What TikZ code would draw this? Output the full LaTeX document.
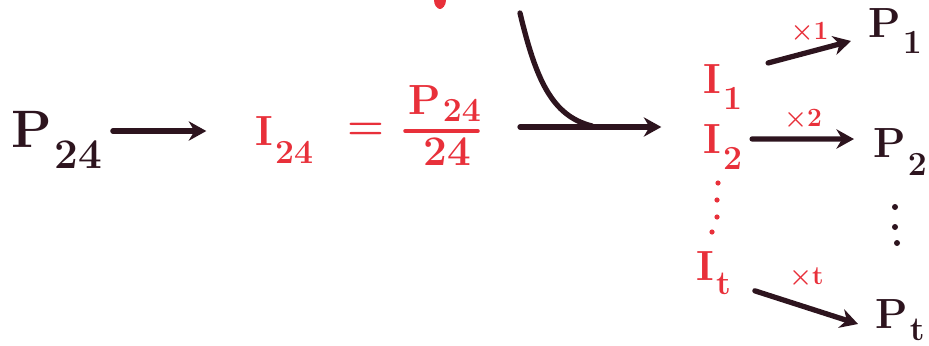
\documentclass[tikz,border=0pt]{standalone}
\usepackage{fontspec}
\usetikzlibrary{arrows.meta}
\definecolor{ink}{RGB}{45,20,30}
\definecolor{redink}{RGB}{232,48,58}
% lowered handwritten-style subscript
\newcommand{\lowsub}[2][0.45em]{\kern0.04em\raisebox{-#1}{\scalebox{0.8}{#2}}}
\begin{document}
\begin{tikzpicture}[x=0.02cm, y=-0.02cm,
  big/.style={font=\fontsize{30}{36}\selectfont\bfseries, text=ink, inner sep=2pt},
  pout/.style={font=\fontsize{24}{30}\selectfont\bfseries, text=ink, inner sep=2pt},
  red/.style={font=\fontsize{24}{30}\selectfont\bfseries, text=redink, inner sep=2pt},
  marker/.style={draw=ink, line width=3pt, line cap=round, -{Stealth[length=10pt,width=11pt]}},
  times/.style={font=\fontsize{15}{18}\selectfont\bfseries, text=redink, inner sep=2pt}]
  \useasboundingbox (0,0) rectangle (929,345);
  % Left part: daily value and its hourly share
  \node[big, anchor=base west] (p24) at (8,147) {P\lowsub[0.4em]{24}};
  \node[red, anchor=base west] (i24) at (252,145) {I\lowsub[0.45em]{24}};
  \node[red] (eq) at (366,131) {=};
  \node[red, anchor=base west] (num) at (405,114) {P\lowsub[0.18em]{24}};
  \node[red, anchor=base west] (den) at (420,165) {24};
  \draw[redink, line width=2pt, line cap=round] (405,131) -- (478,131);
  \draw[marker, shorten <=4pt, shorten >=26pt] (p24.east |- eq) -- (i24.west |- eq);
  % Incoming line joining the big arrow
  \coordinate (top) at (520,13);
  \coordinate (start) at (520,127);
  \draw[draw=ink, line width=3pt, line cap=round] (top) .. controls (536,80) and (552,116) .. (592,126);
  % Hourly values
  \node[red, anchor=base west] (i1) at (700,93) {I\lowsub[0.4em]{1}};
  \node[red, anchor=base west] (i2) at (700,153) {I\lowsub[0.4em]{2}};
  \node[red, anchor=base west] (it) at (693,280) {I\lowsub[0.35em]{t}};
  \foreach \x/\y in {718/183, 717/200, 717/217, 712/232}{
    \fill[redink] (\x,\y) circle (2.6);
  }
  \draw[marker, shorten >=22pt] (start) -- (i2.west |- start);
  % Hourly products
  \node[pout, anchor=base west] (p1) at (865,37) {P\lowsub[0.4em]{1}};
  \node[pout, anchor=base west] (p2) at (870,157) {P\lowsub[0.45em]{2}};
  \node[pout, anchor=base west] (pt) at (872,328) {P\lowsub[0.3em]{t}};
  \foreach \x/\y in {895/207, 895/227, 897/243}{
    \fill[ink] (\x,\y) circle (3);
  }
  \draw[marker] ([shift={(22,-24)}]i1.east) -- ([shift={(-14,10)}]p1.west)
    node[times, midway, above=3pt] {×1};
  \draw[marker] ([shift={(6,-8)}]i2.east) -- ([shift={(-16,-13)}]p2.west)
    node[times, midway, above=3pt] {×2};
  \draw[marker] ([shift={(20,-8)}]it.south east) -- ([shift={(-14,4)}]pt.west)
    node[times, midway, above=9pt] {×t};
  % Red mark at the top edge
  \fill[redink] (434,0) -- (446,0) .. controls (446,6) and (442,9) .. (440,9)
    .. controls (437,9) and (434,5) .. (434,0);
\end{tikzpicture}
\end{document}
